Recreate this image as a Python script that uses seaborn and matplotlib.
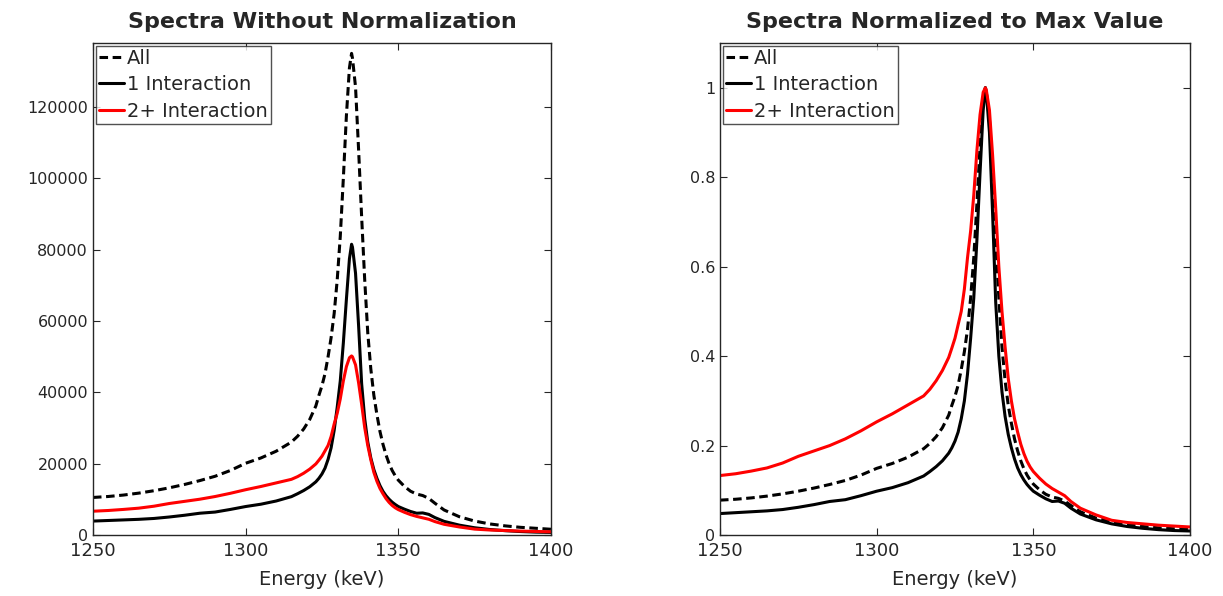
import numpy as np
import pandas as pd
import seaborn as sns
import matplotlib
matplotlib.use("Agg")
import matplotlib.pyplot as plt
from matplotlib.ticker import FuncFormatter

# Energy grid (keV), denser around the photopeak
energy = [1250, 1255, 1260, 1265, 1270, 1275, 1280, 1285, 1290, 1295, 1300, 1305, 1310, 1315,
          1317, 1319, 1321, 1323,
          1324, 1325, 1326, 1327, 1328, 1329, 1330, 1331, 1332, 1333, 1334,
          1334.7,
          1335, 1336, 1337, 1338, 1339, 1340, 1341, 1342, 1343, 1344, 1345, 1346, 1347, 1348, 1349, 1350,
          1352, 1354, 1356, 1358, 1360, 1362,
          1365, 1370, 1375, 1380, 1385, 1390, 1395, 1400]

# Peak heights (counts)
peak_all = 135000
peak_one = 81500
peak_multi = 50200

# Spectrum shapes relative to each peak
shape_all = [0.078, 0.080, 0.083, 0.087, 0.092, 0.098, 0.105, 0.113, 0.122, 0.134, 0.149, 0.160, 0.174, 0.193,
             0.205, 0.220, 0.240, 0.268,
             0.29, 0.31, 0.335, 0.37, 0.41, 0.46, 0.53, 0.62, 0.74, 0.87, 0.97,
             1.0,
             0.99, 0.93, 0.80, 0.66, 0.53, 0.42, 0.345, 0.29, 0.25, 0.215, 0.188, 0.166, 0.148, 0.134, 0.123, 0.114,
             0.101, 0.091, 0.085, 0.082, 0.076, 0.066,
             0.052, 0.038, 0.029, 0.023, 0.019, 0.016, 0.014, 0.012]
shape_one = [0.048, 0.050, 0.052, 0.054, 0.057, 0.062, 0.068, 0.075, 0.079, 0.088, 0.098, 0.106, 0.117, 0.132,
             0.142, 0.153, 0.166, 0.183,
             0.195, 0.21, 0.23, 0.26, 0.30, 0.36, 0.44, 0.53, 0.66, 0.81, 0.95,
             1.0,
             0.99, 0.90, 0.72, 0.52, 0.40, 0.32, 0.265, 0.225, 0.195, 0.17, 0.15, 0.135, 0.123, 0.113, 0.105, 0.098,
             0.089, 0.081, 0.075, 0.076, 0.071, 0.060,
             0.047, 0.034, 0.025, 0.019, 0.015, 0.012, 0.010, 0.009]
shape_multi = [0.133, 0.137, 0.143, 0.150, 0.161, 0.176, 0.188, 0.200, 0.215, 0.233, 0.253, 0.271, 0.291, 0.311,
               0.326, 0.345, 0.368, 0.397,
               0.418, 0.44, 0.47, 0.50, 0.55, 0.62, 0.68, 0.76, 0.86, 0.94, 0.99,
               1.0,
               0.995, 0.95, 0.85, 0.73, 0.60, 0.50, 0.42, 0.35, 0.30, 0.26, 0.23, 0.203, 0.182, 0.165, 0.152, 0.142,
               0.127, 0.114, 0.104, 0.096, 0.088, 0.075,
               0.060, 0.045, 0.033, 0.028, 0.025, 0.022, 0.020, 0.018]

labels = ["All", "1 Interaction", "2+ Interaction"]
x_ticks = [1250, 1300, 1350, 1400]

# --------------------------
# Build data
# --------------------------
raw = {"All": np.array(shape_all) * peak_all,
       "1 Interaction": np.array(shape_one) * peak_one,
       "2+ Interaction": np.array(shape_multi) * peak_multi}
rows = []
for lab in labels:
    vals = raw[lab]
    for e, v, n in zip(energy, vals, vals / vals.max()):
        rows.append({"Energy": e, "Counts": v, "Norm": n, "Series": lab})
df = pd.DataFrame(rows)

# --------------------------
# Style
# --------------------------
sns.set_style("white")
plt.rcParams["font.family"] = ["DejaVu Sans"]
plt.rcParams.update({"xtick.direction": "in", "ytick.direction": "in",
                     "xtick.top": True, "ytick.right": True,
                     "xtick.bottom": True, "ytick.left": True,
                     "xtick.major.size": 5, "ytick.major.size": 5,
                     "xtick.color": "#262626", "ytick.color": "#262626",
                     "axes.edgecolor": "#262626", "axes.linewidth": 1.0})

palette = {"All": "black", "1 Interaction": "black", "2+ Interaction": "red"}
dashes = {"All": (2.8, 1.5), "1 Interaction": "", "2+ Interaction": ""}

fig = plt.figure(figsize=(12.23, 5.96), dpi=100)
ax1 = fig.add_axes([0.0760, 0.1023, 0.3745, 0.8255])
ax2 = fig.add_axes([0.5887, 0.1023, 0.3843, 0.8255])

panels = [(ax1, "Counts", "Spectra Without Normalization", (0, 137900)),
          (ax2, "Norm", "Spectra Normalized to Max Value", (0, 1.1))]

for ax, y_var, title, ylims in panels:
    sns.lineplot(data=df, x="Energy", y=y_var, hue="Series", style="Series",
                 hue_order=labels, style_order=labels, palette=palette, dashes=dashes,
                 linewidth=2.2, ax=ax)
    ax.set_xlim(1250, 1400)
    ax.set_ylim(*ylims)
    ax.set_xticks(x_ticks)
    ax.set_xlabel("Energy (keV)", fontsize=14, color="#262626", labelpad=7)
    ax.set_ylabel("")
    ax.set_title(title, fontsize=16, fontweight="bold", pad=11)
    ax.tick_params(axis="x", labelsize=13, labelcolor="#262626", pad=5)
    ax.tick_params(axis="y", labelsize=11.5, labelcolor="#262626")
    for s in ax.spines.values():
        s.set_visible(True)
    leg = ax.legend(loc="upper left", fontsize=14, frameon=True, fancybox=False,
                    handlelength=1.3, handletextpad=0.15, borderaxespad=0.15,
                    borderpad=0.15, labelspacing=0.38)
    leg.get_frame().set_edgecolor("#262626")
    leg.get_frame().set_linewidth(1.0)
    for t in leg.get_texts():
        t.set_color("#262626")

ax1.set_yticks([0, 20000, 40000, 60000, 80000, 100000, 120000])
ax2.set_yticks([0, 0.2, 0.4, 0.6, 0.8, 1.0])
ax2.yaxis.set_major_formatter(FuncFormatter(lambda v, p: "%g" % v))

plt.savefig("out.png", dpi=100)
plt.close()
